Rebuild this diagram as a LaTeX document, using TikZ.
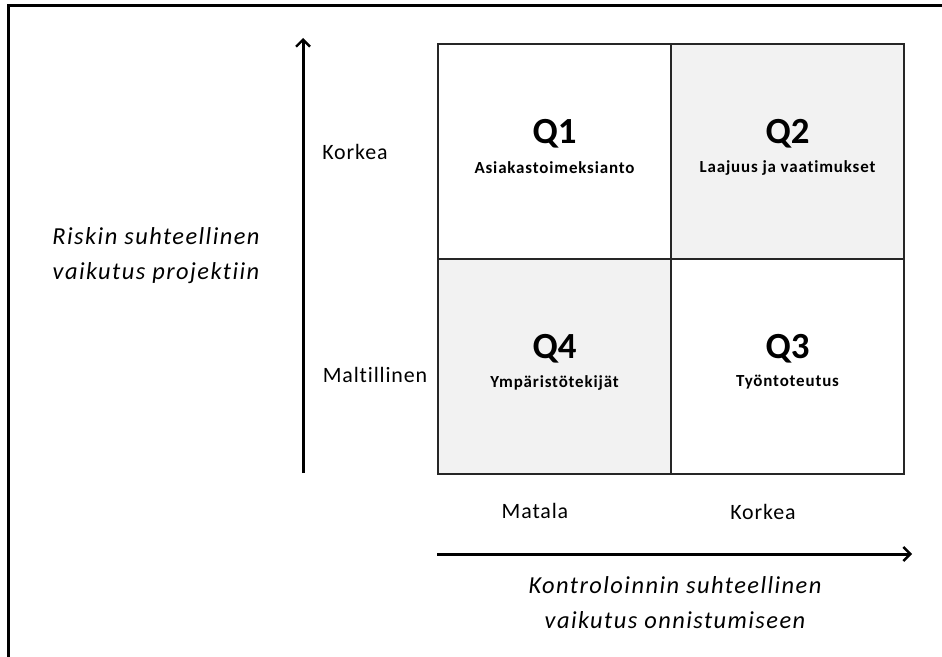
\documentclass[tikz,border=0pt]{standalone}
\usepackage{fontspec}
\setmainfont{Carlito}[Ligatures=NoCommon]
\usetikzlibrary{arrows.meta}

\newcommand{\spaced}[1]{\addfontfeatures{LetterSpace=#1}}

\tikzset{
  cell/.style={draw=black!85, line width=2bp, minimum width=233bp, minimum height=215bp,
               inner sep=0pt, anchor=north west},
  shaded/.style={cell, fill=black!5},
  plain/.style={cell, fill=white},
  qtitle/.style={font=\fontsize{37}{39}\selectfont\bfseries, inner sep=0pt},
  qsub/.style={font=\fontsize{17}{20}\selectfont\bfseries\spaced{5}, inner sep=0pt},
  level/.style={font=\fontsize{22}{25}\selectfont\spaced{4}, inner sep=0pt},
  axistitle/.style={font=\fontsize{24.5}{35}\selectfont\itshape\spaced{6}, align=center, inner sep=0pt},
  axis/.style={line width=3bp, -{Straight Barb[length=7bp,width=14bp,line width=2.4bp]}}
}

\begin{document}
\begin{tikzpicture}[x=1bp, y=-1bp]
  \useasboundingbox (0,0) rectangle (942,657);
  \fill[white] (0,0) rectangle (942,657);

  % partial outer frame along the left and top edges
  \begin{scope}
    \clip (0,0) rectangle (942,657);
    \draw[line width=3bp, line cap=rect] (8,670) -- (8,6) -- (960,6);
  \end{scope}

  % the four quadrants
  \node[plain]  (q1) at (437,43)  {};
  \node[shaded] (q2) at (670,43)  {};
  \node[shaded] (q4) at (437,258) {};
  \node[plain]  (q3) at (670,258) {};

  % quadrant titles and names
  \node[qtitle] (q1t) at ([yshift=18bp]q1.center)  {Q1};
  \node[qsub]   (q1s) at ([yshift=-16bp]q1.center) {Asiakastoimeksianto};
  \node[qtitle] (q2t) at ([yshift=18bp]q2.center)  {Q2};
  \node[qsub]   (q2s) at ([yshift=-16bp]q2.center) {Laajuus ja vaatimukset};
  \node[qtitle] (q4t) at ([yshift=18bp]q4.center)  {Q4};
  \node[qsub]   (q4s) at ([yshift=-16bp]q4.center) {Ympäristötekijät};
  \node[qtitle] (q3t) at ([yshift=18bp]q3.center)  {Q3};
  \node[qsub]   (q3s) at ([yshift=-16bp]q3.center) {Työntoteutus};

  % vertical axis
  \coordinate (ybase) at (303,473);
  \coordinate (ytip)  at (303,38);
  \draw[axis] (ybase) -- (ytip);
  \node[level] (ykorkea) at (355,152) {Korkea};
  \node[level] (ymalt)   at (375,375) {Maltillinen};
  \node[axistitle] (ytitle) at (156,256) {Riskin suhteellinen\\vaikutus projektiin};

  % horizontal axis
  \coordinate (xbase) at (437,554);
  \coordinate (xtip)  at (912,554);
  \draw[axis] (xbase) -- (xtip);
  \node[level] (xmatala) at (535,511) {Matala};
  \node[level] (xkorkea) at (763,512) {Korkea};
  \node[axistitle] (xtitle) at (675,603) {Kontroloinnin suhteellinen\\vaikutus onnistumiseen};
\end{tikzpicture}
\end{document}
